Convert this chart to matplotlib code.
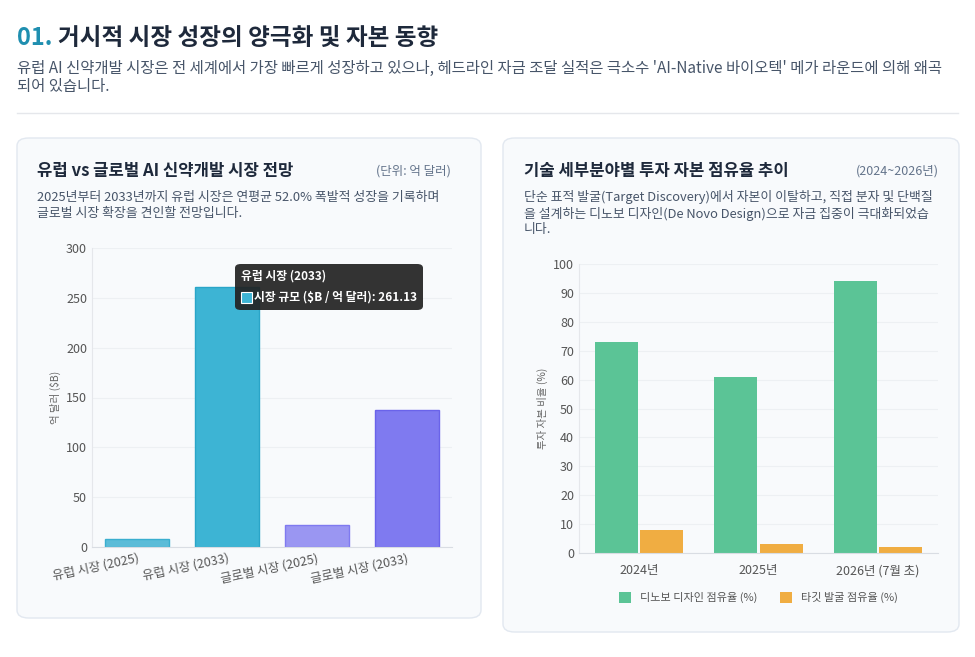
import matplotlib.pyplot as plt
from matplotlib.patches import FancyBboxPatch, Rectangle

plt.rcParams['font.family'] = ['Noto Sans CJK KR', 'DejaVu Sans']

W, H = 975, 657

# left chart data
market_labels = ['유럽 시장 (2025)', '유럽 시장 (2033)', '글로벌 시장 (2025)', '글로벌 시장 (2033)']
market_values = [8.0, 261.13, 22.0, 137.0]
market_colors = ['#5bbcd8', '#3db4d4', '#9a96f2', '#7f7af0']
market_edges = ['#3aaecf', '#2aa5c8', '#7f7af0', '#6a63ea']

# right chart data
years = ['2024년', '2025년', '2026년 (7월 초)']
denovo_share = [73, 61, 94]
target_share = [8, 3, 2]
green = '#5bc496'
orange = '#f0ad42'

fig = plt.figure(figsize=(W / 100, H / 100), dpi=100)
fig.patch.set_facecolor('white')


def px(x, y):
    return x / W, 1 - y / H


def card(x0, y0, x1, y1):
    fig.patches.append(FancyBboxPatch(px(x0, y1), (x1 - x0) / W, (y1 - y0) / H,
                                      boxstyle='round,pad=0,rounding_size=0.012',
                                      transform=fig.transFigure, facecolor='#f8fafc',
                                      edgecolor='#e2e8f0', linewidth=1, zorder=-5))


# header
fig.text(*px(17, 38), '01.', color='#1f8fb0', fontsize=17, fontweight='bold', va='center')
fig.text(*px(58, 38), '거시적 시장 성장의 양극화 및 자본 동향', color='#1e293b', fontsize=17,
         fontweight='bold', va='center')
fig.text(*px(17, 68), "유럽 AI 신약개발 시장은 전 세계에서 가장 빠르게 성장하고 있으나, 헤드라인 자금 조달 실적은 극소수 'AI-Native 바이오텍' 메가 라운드에 의해 왜곡",
         color='#475569', fontsize=11.1, va='center')
fig.text(*px(17, 87), '되어 있습니다.', color='#475569', fontsize=11.1, va='center')
fig.lines.append(plt.Line2D([17 / W, 958 / W], [1 - 113 / H] * 2, color='#e5e7eb', lw=1,
                            transform=fig.transFigure))

card(17, 138, 481, 618)
card(503, 138, 959, 632)

# left card text
fig.text(*px(37, 171), '유럽 vs 글로벌 AI 신약개발 시장 전망', fontsize=12, fontweight='bold',
         color='#1e293b', va='center')
fig.text(*px(451, 171), '(단위: 억 달러)', fontsize=9, color='#64748b', va='center', ha='right')
fig.text(*px(37, 197), '2025년부터 2033년까지 유럽 시장은 연평균 52.0% 폭발적 성장을 기록하며',
         fontsize=9.3, color='#475569', va='center')
fig.text(*px(37, 214), '글로벌 시장 확장을 견인할 전망입니다.', fontsize=9.3, color='#475569', va='center')

# right card text
fig.text(*px(524, 171), '기술 세부분야별 투자 자본 점유율 추이', fontsize=12, fontweight='bold',
         color='#1e293b', va='center')
fig.text(*px(939, 171), '(2024~2026년)', fontsize=9, color='#64748b', va='center', ha='right')
fig.text(*px(524, 197), '단순 표적 발굴(Target Discovery)에서 자본이 이탈하고, 직접 분자 및 단백질',
         fontsize=9.3, color='#475569', va='center')
fig.text(*px(524, 214), '을 설계하는 디노보 디자인(De Novo Design)으로 자금 집중이 극대화되었습',
         fontsize=9.3, color='#475569', va='center')
fig.text(*px(524, 230), '니다.', fontsize=9.3, color='#475569', va='center')


def style_ax(ax):
    ax.set_facecolor('#f8fafc')
    for s in ['top', 'right']:
        ax.spines[s].set_visible(False)
    ax.spines['left'].set_color('#e5e7eb')
    ax.spines['bottom'].set_color('#d9dde3')
    ax.grid(axis='y', color='#edf0f3', lw=0.8)
    ax.set_axisbelow(True)
    ax.tick_params(length=0, labelsize=9, colors='#555555')


# left axes
ax1 = fig.add_axes([92 / W, 1 - 547 / H, (452 - 92) / W, (547 - 248) / H])
style_ax(ax1)
x1 = range(len(market_labels))
ax1.bar(x1, market_values, width=0.72, color=market_colors, edgecolor=market_edges, lw=1)
ax1.set_ylim(0, 300)
ax1.set_xlim(-0.5, 3.5)
ax1.set_yticks(range(0, 301, 50))
ax1.set_xticks(list(x1))
ax1.set_xticklabels(market_labels, rotation=12, ha='right', rotation_mode='anchor')
ax1.set_ylabel('억 달러 ($B)', fontsize=7.5, color='#666666')

# tooltip
fig.patches.append(FancyBboxPatch(px(235, 310), 188 / W, 46 / H,
                                  boxstyle='round,pad=0,rounding_size=0.006',
                                  transform=fig.transFigure, facecolor='#222222',
                                  alpha=0.92, edgecolor='none', zorder=5))
fig.text(*px(241, 276), '유럽 시장 (2033)', fontsize=8.5, fontweight='bold', color='white',
         va='center', zorder=6)
fig.patches.append(Rectangle(px(241, 303), 11 / W, 11 / H, transform=fig.transFigure,
                             facecolor=market_colors[1], edgecolor='white', lw=0.8, zorder=6))
fig.text(*px(254, 297), '시장 규모 ($B / 억 달러): 261.13', fontsize=8.5, fontweight='bold',
         color='white', va='center', zorder=6)

# right axes
ax2 = fig.add_axes([579 / W, 1 - 553 / H, (938 - 579) / W, (553 - 264) / H])
style_ax(ax2)
x2 = list(range(len(years)))
bw = 0.36
ax2.bar([i - bw / 2 - 0.01 for i in x2], denovo_share, width=bw, color=green,
        label='디노보 디자인 점유율 (%)')
ax2.bar([i + bw / 2 + 0.01 for i in x2], target_share, width=bw, color=orange,
        label='타깃 발굴 점유율 (%)')
ax2.set_ylim(0, 100)
ax2.set_xlim(-0.5, 2.5)
ax2.set_yticks(range(0, 101, 10))
ax2.set_xticks(x2)
ax2.set_xticklabels(years)
ax2.tick_params(axis='x', pad=8)
ax2.set_ylabel('투자 자본 비율 (%)', fontsize=7.5, color='#666666')
ax2.legend(loc='upper center', bbox_to_anchor=(0.5, -0.1), ncol=2, frameon=False,
           fontsize=8, handlelength=1.1, handleheight=1.1, labelcolor='#555555')

fig.savefig('out.png', dpi=100, facecolor='white')
